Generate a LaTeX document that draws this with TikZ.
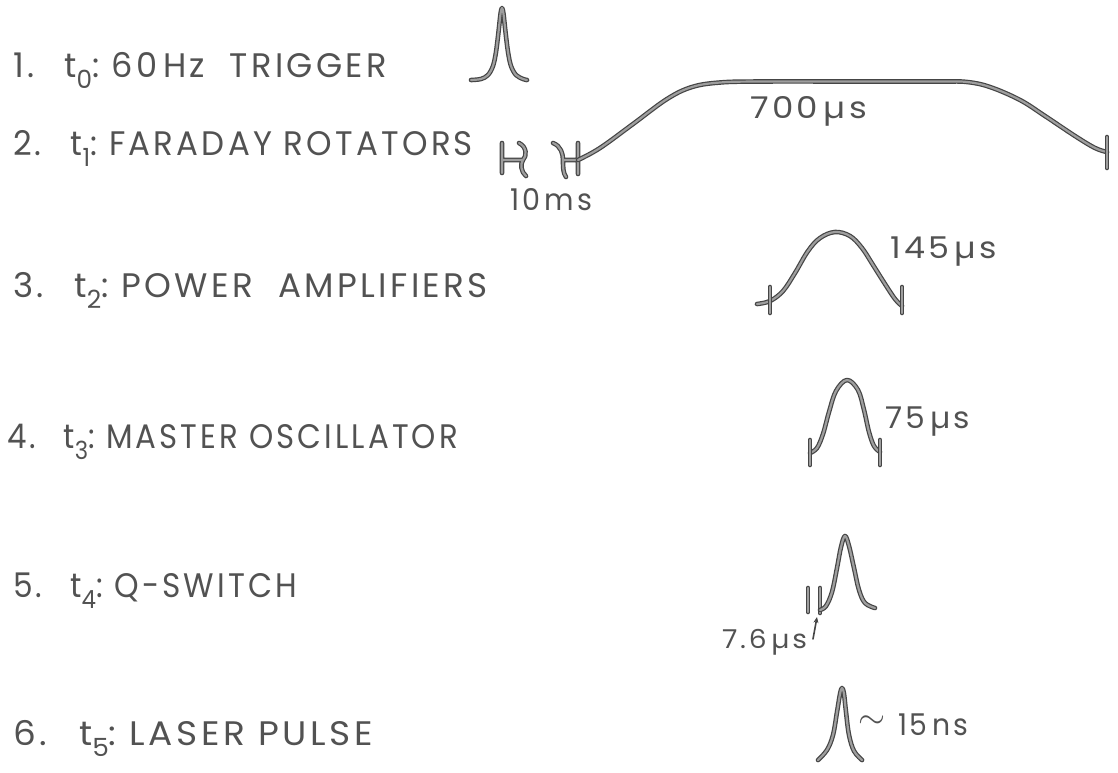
\documentclass[tikz,border=0pt]{standalone}
\usepackage{fontspec}
\setmainfont{Poppins}
\newfontfamily\lettering[LetterSpace=10]{Poppins}
\usetikzlibrary{arrows.meta}
\definecolor{ink}{rgb}{0.32,0.32,0.32}
\definecolor{inkdark}{rgb}{0.27,0.27,0.27}
\definecolor{inkfill}{rgb}{0.62,0.62,0.62}
\newsavebox\fitbox
\newlength\fitlen
\newcommand\fitto[2]{\sbox\fitbox{#2}\setlength\fitlen{\wd\fitbox}\pgfmathsetmacro\fitfac{#1/\fitlen}\scalebox{\fitfac}[1]{\usebox\fitbox}}
\newcommand\tsub[1]{\raisebox{-11pt}{\fontsize{25}{25}\selectfont #1}}
\newcommand\rowfont{\lettering\fontsize{34}{34}\selectfont}
\newcommand\labfont{\lettering\fontsize{30}{30}\selectfont}
\tikzset{
  inkline/.style={draw=inkfill, line width=2.2pt, line cap=round, line join=round,
    preaction={draw=inkdark, line width=4.6pt, line cap=round, line join=round}},
  thinink/.style={draw=inkdark, line width=1.6pt, line cap=round},
  lbl/.style={inner sep=0pt, outer sep=0pt, anchor=base west, text=ink},
}
\begin{document}
\begin{tikzpicture}[x=1pt, y=-1pt]
\fill[white] (0,0) rectangle (1118,772);
\useasboundingbox (0,0) rectangle (1118,772);

% ---- row labels ----
\node[lbl] (l1) at (13,77)  {\fitto{374}{\rowfont 1.\hspace{.9em}t\tsub{0}:\ 60\,Hz\ \ TRIGGER}};
\node[lbl] (l2) at (13,155) {\fitto{460}{\rowfont 2.\hspace{.9em}t\tsub{1}:\ FARADAY ROTATORS}};
\node[lbl] (l3) at (13,297) {\fitto{475}{\rowfont 3.\hspace{.9em}t\tsub{2}:\ POWER\ \ AMPLIFIERS}};
\node[lbl] (l4) at (7,448)  {\fitto{451}{\rowfont 4.\hspace{.9em}t\tsub{3}:\ MASTER\ OSCILLATOR}};
\node[lbl] (l5) at (13,597) {\fitto{284}{\rowfont 5.\hspace{.9em}t\tsub{4}:\ Q-SWITCH}};
\node[lbl] (l6) at (13,745) {\fitto{360}{\rowfont 6.\hspace{.9em}t\tsub{5}:\ LASER PULSE}};

% ---- 1: trigger pulse ----
\draw[inkline] plot[smooth, tension=0.55] coordinates {(471,80) (481,79) (488,75) (493,66) (496,52) (498.5,32) (500.5,14) (502,8) (503.5,14) (505.5,32) (508,52) (511,66) (516,75) (523,79) (527,80)};

% ---- 2: Faraday rotators ----
\draw[inkline] (502,143) -- (502,173) (502,160) -- (523,160)
  (519,143) .. controls (527,147) and (527,156) .. (523,160) .. controls (520,164) and (521,172) .. (526,176);
\draw[inkline] (553,143) .. controls (561,146) and (563,154) .. (563,160) .. controls (563,167) and (563,173) .. (566,177)
  (563,160) -- (578,160) (578,143) -- (578,174);
\draw[inkline] plot[smooth, tension=0.6] coordinates {(578,160) (600,148) (633,124) (667,99) (692,87) (720,82.5) (760,81.5) (860,81.5) (940,81.5) (967,82) (990,87) (1020,100) (1045,116) (1075,136) (1095,148) (1107,152)};
\draw[inkline] (1107,137) -- (1107,168);
\node[lbl] (t700) at (750,118) {\fitto{117}{\labfont 700\,µs}};
\node[lbl] (t10) at (510,210) {\fitto{82}{\labfont 10\,ms}};

% ---- 3: power amplifiers ----
\draw[inkline] plot[smooth, tension=0.6] coordinates {(757,304) (770,301) (783,291) (795,273) (808,251) (820,238) (835,232) (850,236) (862,248) (873,265) (885,284) (895,299) (902,306)};
\draw[inkline] (770,287) -- (770,313) (902,287) -- (902,313);
\node[lbl] (t145) at (890,258) {\fitto{107}{\labfont 145\,µs}};

% ---- 4: master oscillator ----
\draw[inkline] plot[smooth, tension=0.6] coordinates {(810,453) (817,448) (823,434) (829,412) (836,391) (847,380) (858,390) (864,410) (869,432) (874,446) (880,452)};
\draw[inkline] (810,440) -- (810,465) (880,440) -- (880,465);
\node[lbl] (t75) at (885,428) {\fitto{85}{\labfont 75\,µs}};

% ---- 5: Q-switch ----
\draw[inkline] (808,588) -- (808,612) (820,588) -- (820,613);
\draw[inkline] plot[smooth, tension=0.6] coordinates {(820,610) (826,606) (832,592) (837,568) (841,547) (845,536) (849,546) (854,568) (859,590) (865,603) (875,608)};
\node[lbl] (t76) at (722,648) {\fitto{85}{\lettering\fontsize{26}{26}\selectfont 7.6\,µs}};
\coordinate (qa) at (813,639);
\coordinate (qb) at (817,617);
\draw[thinink, -{Stealth[length=6pt,width=5pt]}] (qa) -- (qb);

% ---- 6: laser pulse ----
\draw[inkline] plot[smooth, tension=0.6] coordinates {(818,760) (827,750) (833,735) (837,712) (840,694) (842,688) (844,694) (846,712) (849,735) (854,751) (862,760)};
\node[text=ink, inner sep=0pt] (tilde) at (872,722) {\resizebox{27pt}{!}{$\sim$}};
\node[lbl] (t15) at (898,735) {\fitto{70}{\labfont 15\,ns}};
\end{tikzpicture}
\end{document}
